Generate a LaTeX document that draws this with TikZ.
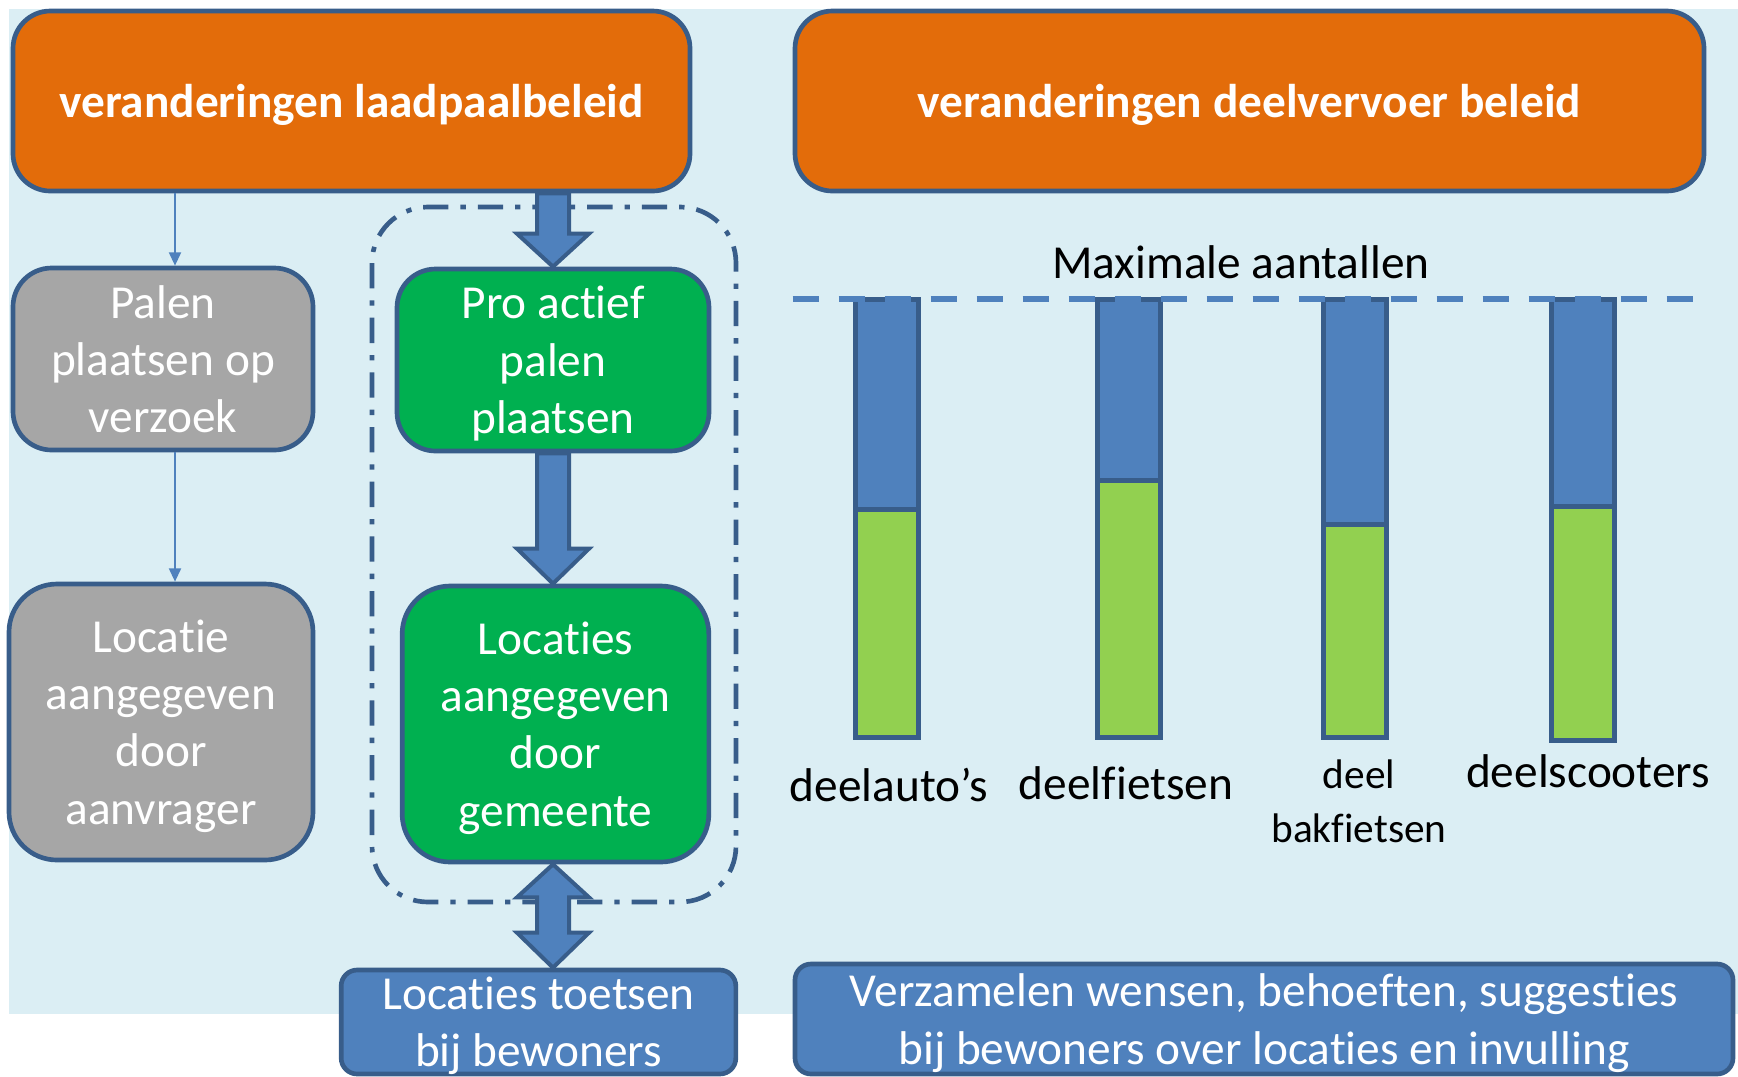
\documentclass[tikz,border=0pt]{standalone}
\usepackage{fontspec}
\setmainfont[Ligatures={NoCommon}]{Carlito}
\usepackage{xcolor}
\usepackage{tikz}
\usetikzlibrary{arrows.meta,calc}

\definecolor{bgblue}{HTML}{DBEEF4}
\definecolor{orangebox}{HTML}{E36C0A}
\definecolor{greybox}{HTML}{A6A6A6}
\definecolor{greenbox}{HTML}{00B050}
\definecolor{accblue}{HTML}{4F81BD}
\definecolor{barlime}{HTML}{92D050}
\definecolor{darkline}{HTML}{385D8A}

\begin{document}
\begin{tikzpicture}[x=0.75pt,y=0.75pt,yscale=-1,xscale=1,
  box/.style={draw=darkline,line width=3.5pt,text=white,align=center,inner sep=0pt,
    text depth=0pt,font=\fontsize{35.5}{43}\selectfont},
  titlebox/.style={box,fill=orangebox,rounded corners=28pt,minimum height=135pt,
    font=\fontsize{35.5}{43}\selectfont\bfseries},
  greystep/.style={box,fill=greybox},
  greenstep/.style={box,fill=greenbox},
  bluebox/.style={box,fill=accblue,rounded corners=12pt},
  thinarr/.style={draw=accblue,line width=1.5pt,-{Triangle[length=10pt,width=9pt]}},
  blockarr/.style={fill=accblue,draw=darkline,line width=3pt,line join=miter},
  groupline/.style={draw=darkline,line width=3.5pt,rounded corners=42pt,
    dash pattern=on 19pt off 9pt on 4pt off 9pt},
  maxline/.style={draw=accblue,line width=5pt,dash pattern=on 19.5pt off 15pt},
  bar/.style={draw=darkline,line width=3.75pt},
  barlabel/.style={anchor=base,inner sep=0pt,font=\fontsize{35.5}{43}\selectfont}]

\useasboundingbox (0,0) rectangle (1738,1076);

% achtergrond
\fill[bgblue] (9,9) rectangle (1738,1014);

% laadpalen
\node[titlebox,minimum width=507.75pt] (lp) at (351.5,101) {veranderingen laadpaalbeleid};
\node[greystep,rounded corners=29pt,minimum width=225pt,minimum height=136.5pt] (ov) at (163,359) {Palen\\plaatsen op\\verzoek};
\node[greystep,rounded corners=36pt,minimum width=228pt,minimum height=207pt] (la) at (161,722) {Locatie\\aangegeven\\door\\aanvrager};
\node[greenstep,rounded corners=29pt,minimum width=234pt,minimum height=136.5pt] (pa) at (553,360) {Pro actief\\palen\\plaatsen};
\node[greenstep,rounded corners=36pt,minimum width=230pt,minimum height=207pt] (lg) at (555.5,724) {Locaties\\aangegeven\\door\\gemeente};
\node[bluebox,minimum width=296pt,minimum height=78pt] (tb) at (538.5,1022) {Locaties toetsen\\bij bewoners};

\draw[groupline] (372,207) rectangle (736,902);

\coordinate (ax) at (175,0);
\draw[thinarr] (ax |- lp.south) -- (ax |- ov.north);
\draw[thinarr] (ax |- ov.south) -- (ax |- la.north);

% blokpijlen
\coordinate (s1) at (pa.north |- lp.south);
\coordinate (t1) at (pa.north);
\draw[blockarr] ($(s1)+(-16,0)$) -- ($(s1)+(16,0)$) -- ($(t1)+(16,-33)$) -- ($(t1)+(36,-33)$)
  -- (t1) -- ($(t1)+(-36,-33)$) -- ($(t1)+(-16,-33)$) -- cycle;
\coordinate (s2) at (pa.south);
\coordinate (t2) at (pa.north |- lg.north);
\draw[blockarr] ($(s2)+(-16,0)$) -- ($(s2)+(16,0)$) -- ($(t2)+(16,-35)$) -- ($(t2)+(36,-35)$)
  -- (t2) -- ($(t2)+(-36,-35)$) -- ($(t2)+(-16,-35)$) -- cycle;
\coordinate (t3) at (pa.north |- lg.south);
\coordinate (t4) at (pa.north |- tb.north);
\draw[blockarr] (t3) -- ($(t3)+(36,33)$) -- ($(t3)+(16,33)$) -- ($(t4)+(16,-35)$) -- ($(t4)+(36,-35)$)
  -- (t4) -- ($(t4)+(-36,-35)$) -- ($(t4)+(-16,-35)$) -- ($(t3)+(-16,33)$) -- ($(t3)+(-36,33)$) -- cycle;

% deelvervoer
\node[titlebox,minimum width=681.75pt] (dv) at (1249.5,101) {veranderingen deelvervoer beleid};
\node[barlabel] (max) at (1241,278) {Maximale aantallen};

\foreach \bx/\bs/\bb in {855/509/737, 1097/480/737, 1323/524/737, 1551/506/740}{
  \fill[accblue] (\bx,299) rectangle (\bx+63,\bs);
  \fill[barlime] (\bx,\bs) rectangle (\bx+63,\bb);
  \draw[bar] (\bx,299) rectangle (\bx+63,\bb);
  \draw[bar] (\bx,\bs) -- (\bx+63,\bs);
}
\draw[maxline] (dv.south west |- 0,299) -- (dv.south east |- 0,299);

\node[barlabel] (auto) at (889,801) {deelauto’s};
\node[barlabel] (fiets) at (1126,799) {deelfietsen};
\node[barlabel,align=center,font=\fontsize{31}{40}\selectfont] (bak) at (1359,842) {deel\\bakfietsen};
\node[barlabel] (scoot) at (1588,787) {deelscooters};

\node[bluebox,minimum width=703.5pt,minimum height=82.5pt] (vw) at (1264,1019) {Verzamelen wensen, behoeften, suggesties\\bij bewoners over locaties en invulling};

\end{tikzpicture}
\end{document}
